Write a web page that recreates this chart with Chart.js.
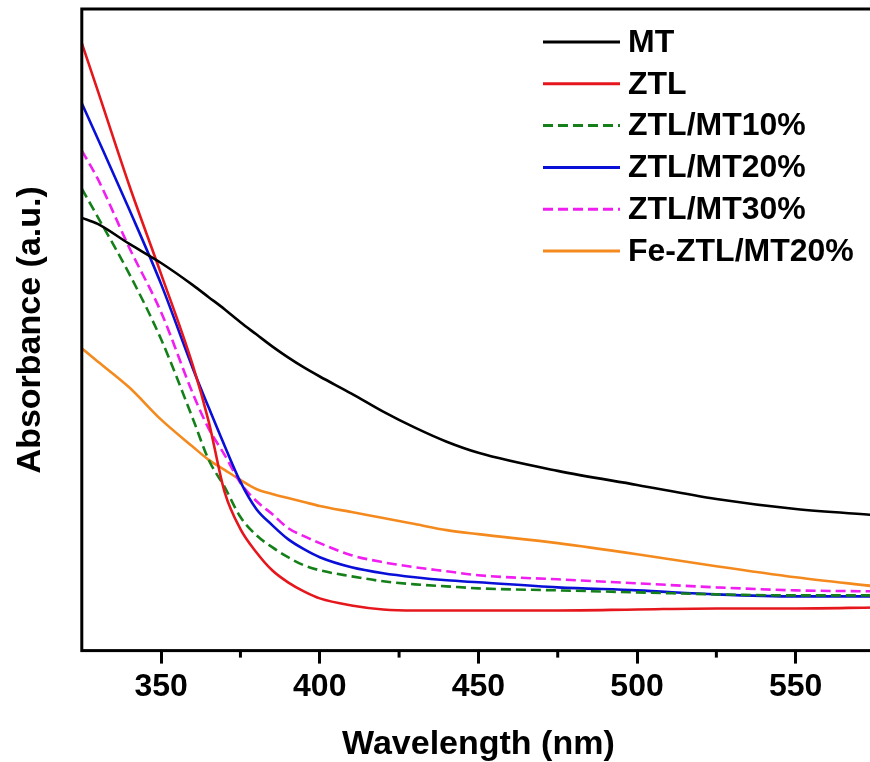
<!DOCTYPE html>
<html>
<head>
<meta charset="utf-8">
<title>UV-Vis absorbance</title>
<script src="https://cdn.jsdelivr.net/npm/chart.js@4.4.1/dist/chart.umd.min.js"></script>
<style>
  html, body { margin: 0; padding: 0; background: #fff; overflow: hidden; }
  #chart { display: block; }
</style>
</head>
<body>
<canvas id="chart" width="880" height="762"></canvas>
<script>
// wavelength (nm)
var wavelengths = [325, 330, 340, 350, 360, 365, 370, 375, 380, 385, 390, 395, 400, 410, 420, 430, 440, 450, 475, 500, 525, 550, 575];

// absorbance, arbitrary units
var mt       = [431, 425, 405, 386, 364, 352, 340, 327, 315, 303, 292, 282, 273, 256, 238, 222, 208, 197, 179, 165, 151, 141, 135];
var ztl      = [605, 558, 463, 375, 284, 228, 158, 121, 98, 80, 68, 59, 52, 45, 41, 40, 40, 40, 40, 41, 42, 42, 43];
var ztlMt10  = [460, 432, 375, 310, 231, 190, 163, 133, 115, 103, 93, 85, 80, 74, 69, 66, 64, 62, 60, 58, 56, 55, 55];
var ztlMt20  = [545, 510, 439, 365, 281, 242, 204, 168, 141, 125, 111, 101, 93, 83, 77, 73, 70, 68, 63, 60, 56, 54, 54];
var ztlMt30  = [498, 470, 401, 337, 256, 221, 195, 167, 149, 136, 122, 114, 107, 95, 88, 83, 79, 75, 71, 67, 63, 60, 59];
var feZtlMt20 = [301, 288, 262, 230, 203, 190, 180, 170, 161, 156, 152, 148, 144, 138, 132, 126, 120, 116, 107, 96, 84, 73, 64];

var majorTicks = [350, 400, 450, 500, 550];
var minorTicks = [375, 425, 475, 525];

var FONT = '"Liberation Sans", Arial, Helvetica, sans-serif';

function series(label, values, color, dashed) {
    return {
        label: label,
        data: wavelengths.map(function (w, i) { return { x: w, y: values[i] }; }),
        borderColor: color,
        backgroundColor: color,
        borderWidth: 2.6,
        borderDash: dashed ? [10, 5] : [],
        pointRadius: 0,
        cubicInterpolationMode: 'monotone',
        fill: false
    };
}

// box round the plot, short minor ticks and the legend inside the plot
var framePlugin = {
    id: 'frame',
    afterDatasetsDraw: function (chart) {
        var ctx = chart.ctx;
        var area = chart.chartArea;
        var xScale = chart.scales.x;
        ctx.save();
        ctx.strokeStyle = '#000';
        ctx.lineWidth = 3;
        ctx.strokeRect(area.left, area.top, area.right - area.left, area.bottom - area.top);

        minorTicks.forEach(function (v) {
            var px = xScale.getPixelForValue(v);
            ctx.beginPath();
            ctx.moveTo(px, area.bottom);
            ctx.lineTo(px, area.bottom + 7);
            ctx.stroke();
        });

        // legend
        ctx.font = 'bold 32px ' + FONT;
        ctx.textBaseline = 'middle';
        ctx.textAlign = 'left';
        chart.data.datasets.forEach(function (ds, i) {
            var y = 42 + i * 41.8;
            ctx.beginPath();
            ctx.strokeStyle = ds.borderColor;
            ctx.lineWidth = 3;
            ctx.setLineDash(ds.borderDash);
            ctx.moveTo(543, y);
            ctx.lineTo(620, y);
            ctx.stroke();
            ctx.setLineDash([]);
            ctx.fillStyle = '#000';
            ctx.fillText(ds.label, 628, y + 1);
        });
        ctx.restore();
    }
};

new Chart(document.getElementById('chart'), {
    type: 'line',
    data: {
        datasets: [
            series('MT', mt, '#000000', false),
            series('ZTL', ztl, '#e5171c', false),
            series('ZTL/MT10%', ztlMt10, '#15801a', true),
            series('ZTL/MT20%', ztlMt20, '#0a0fd8', false),
            series('ZTL/MT30%', ztlMt30, '#f01ef0', true),
            series('Fe-ZTL/MT20%', feZtlMt20, '#f48a1e', false)
        ]
    },
    options: {
        responsive: false,
        animation: false,
        devicePixelRatio: 1,
        layout: { padding: { left: 0, top: 9, right: 5, bottom: 0 } },
        plugins: {
            legend: { display: false },
            tooltip: { enabled: false }
        },
        scales: {
            x: {
                type: 'linear',
                min: 325,
                max: 575,
                afterBuildTicks: function (scale) {
                    scale.ticks = majorTicks.map(function (v) { return { value: v }; });
                },
                grid: {
                    drawOnChartArea: false,
                    drawTicks: true,
                    tickLength: 13,
                    tickWidth: 3,
                    tickColor: '#000'
                },
                border: { display: false },
                ticks: {
                    padding: 4,
                    color: '#000',
                    maxRotation: 0,
                    font: { family: FONT, size: 32, weight: 'bold', lineHeight: 1.2 }
                },
                title: {
                    display: true,
                    text: 'Wavelength (nm)',
                    color: '#000',
                    font: { family: FONT, size: 34, weight: 'bold', lineHeight: 1.0 },
                    padding: { top: 18, bottom: 0 }
                }
            },
            y: {
                min: 0,
                max: 639,
                grid: { display: false, drawTicks: false },
                border: { display: false },
                ticks: { display: false },
                title: {
                    display: true,
                    text: 'Absorbance (a.u.)',
                    color: '#000',
                    font: { family: FONT, size: 34, weight: 'bold', lineHeight: 1.2 },
                    padding: { top: 10, bottom: 31 }
                }
            }
        }
    },
    plugins: [framePlugin]
});
</script>
</body>
</html>
